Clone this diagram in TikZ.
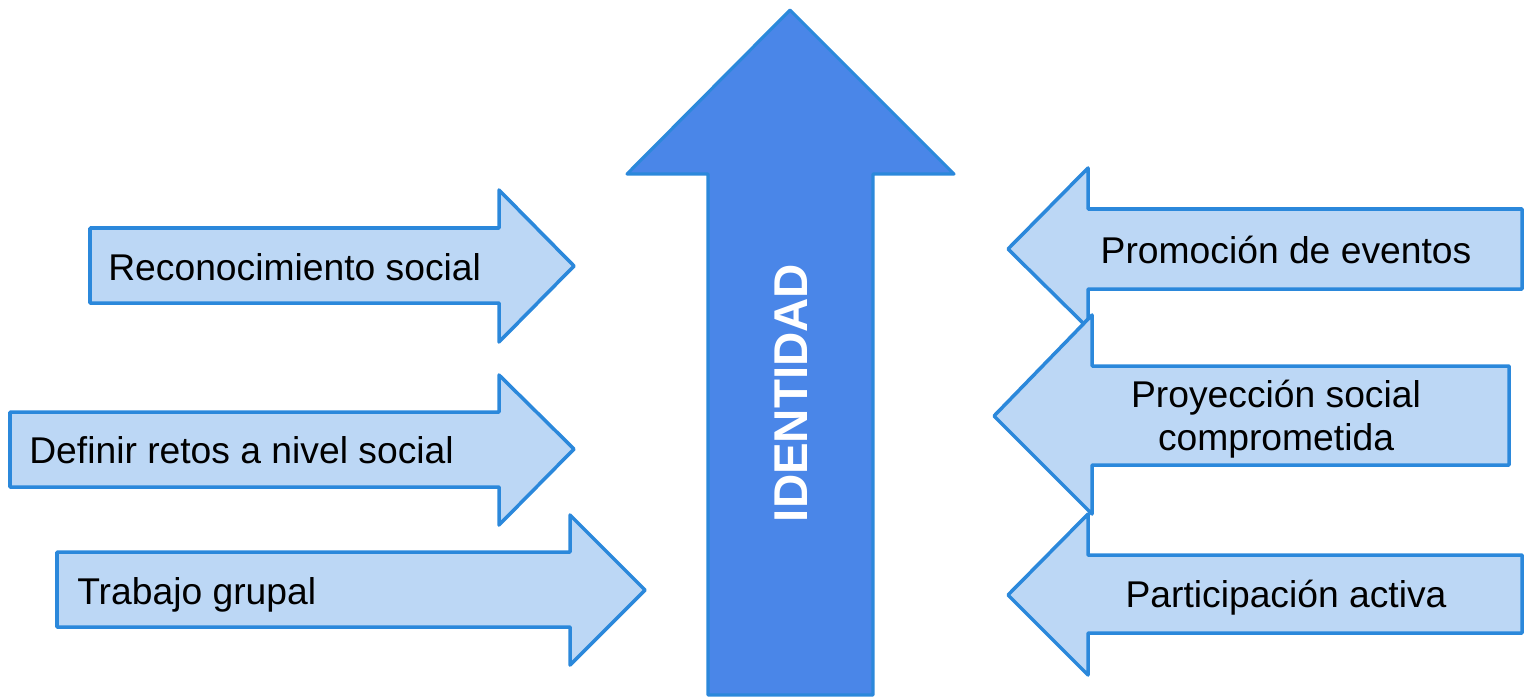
\documentclass[tikz,border=0pt]{standalone}
\usepackage{fontspec}
\setmainfont{Liberation Sans}
\definecolor{lightblue}{HTML}{BCD7F5}
\definecolor{edgeblue}{HTML}{2B88DB}
\definecolor{mainblue}{HTML}{4A86E8}

\begin{document}
\begin{tikzpicture}[x = 0.02cm, y = -0.02cm, line join = round, every node/.style = {inner sep = 0pt, font = \fontsize{21.2}{24.4}\selectfont}, sidearrow/.style = {draw = edgeblue, fill = lightblue, line width = 2pt}, mainarrow/.style = {draw = edgeblue, fill = mainblue, line width = 1.8pt}]
        \useasboundingbox (0,0) rectangle (1524,697);
        % central arrow
        \draw[mainarrow] (708,695) -- (708,174) -- (627,174) -- (790,10) -- (954,174) -- (873,174) -- (873,695) -- cycle;
        \node[rotate = 90, text = white, font = \bfseries\fontsize{27}{30}\selectfont] (identidad) at (791,393) {IDENTIDAD};
        % left arrows
        \draw[sidearrow] (90,228) -- (499,228) -- (499,190) -- (574,266) -- (499,342) -- (499,303) -- (90,303) -- cycle;
        \draw[sidearrow] (10,412) -- (499,412) -- (499,375) -- (574,449) -- (499,525) -- (499,487) -- (10,487) -- cycle;
        \draw[sidearrow] (57,552) -- (570,552) -- (570,515) -- (645,590) -- (570,665) -- (570,627) -- (57,627) -- cycle;
        \node[anchor = base west] (recon) at (108,280) {Reconocimiento social};
        \node[anchor = base west] (retos) at (29,463) {Definir retos a nivel social};
        \node[anchor = base west] (trabajo) at (77,604) {Trabajo grupal};
        % right arrows
        \draw[sidearrow] (1522,209) -- (1088,209) -- (1088,168) -- (1008,249) -- (1088,328) -- (1088,289) -- (1522,289) -- cycle;
        \draw[sidearrow] (1509,366) -- (1092,366) -- (1092,315) -- (994,416) -- (1092,514) -- (1092,465) -- (1509,465) -- cycle;
        \draw[sidearrow] (1522,555) -- (1088,555) -- (1088,514) -- (1008,595) -- (1088,675) -- (1088,633) -- (1522,633) -- cycle;
        \node[anchor = base] (promo) at (1286,263) {Promoción de eventos};
        \node[anchor = base, align = center] (proyec) at (1276,450) {Proyección social\\comprometida};
        \node[anchor = base] (partic) at (1286,607) {Participación activa};
    \end{tikzpicture}
\end{document}
